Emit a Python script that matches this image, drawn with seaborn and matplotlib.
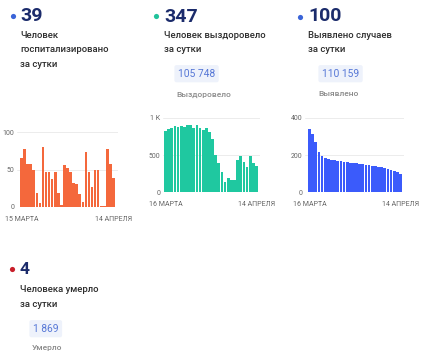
import matplotlib
matplotlib.use("Agg")
import matplotlib.pyplot as plt
import seaborn as sns
import numpy as np

# ---------------- data ----------------
hosp_values = [65, 78, 58, 58, 49, 18, 5, 80, 46, 46, 37, 47, 18, 2, 56, 52,
               46, 32, 31, 17, 6, 74, 47, 26, 50, 50, 1, 1, 78, 57, 39]
recov_values = [826, 844, 857, 884, 870, 893, 870, 902, 897, 866, 906, 857,
                839, 866, 808, 714, 500, 397, 272, 143, 196, 165, 165, 433,
                487, 411, 344, 487, 388, 347]
cases_values = [337, 312, 268, 218, 195, 182, 177, 175, 173, 170, 166, 164,
                161, 159, 157, 155, 152, 150, 148, 145, 143, 141, 137, 134,
                129, 123, 118, 112, 107, 100]

hosp_xlabels = ["15 МАРТА", "14 АПРЕЛЯ"]
recov_xlabels = ["16 МАРТА", "14 АПРЕЛЯ"]
cases_xlabels = ["16 МАРТА", "14 АПРЕЛЯ"]

hosp_yticks = [0, 50, 100]
hosp_yticklabels = ["0", "50", "100"]
recov_yticks = [0, 500, 1000]
recov_yticklabels = ["0", "500", "1 K"]
cases_yticks = [0, 200, 400]
cases_yticklabels = ["0", "200", "400"]

big_numbers = ["39", "347", "100", "4"]
captions = [["Человек", "госпитализировано", "за сутки"],
            ["Человек выздоровело", "за сутки"],
            ["Выявлено случаев", "за сутки"],
            ["Человека умерло", "за сутки"]]
totals = [None, "105 748", "110 159", "1 869"]
total_labels = [None, "Выздоровело", "Выявлено", "Умерло"]

# ---------------- style ----------------
sns.set_theme(style="white")
plt.rcParams["font.family"] = ["Roboto", "DejaVu Sans"]

W, H = 430, 353
fig = plt.figure(figsize=(W / 100, H / 100), dpi=100)
fig.patch.set_facecolor("white")

NAVY = "#1b2b6b"
TEXT = "#2e2e2e"
GRAY = "#8a8a8a"
TICK = "#666666"
BOXBG = "#eef2fb"
BOXTXT = "#5677d6"

ORANGE = "#f4683c"
GREEN = "#1fc8a0"
BLUE = "#3b5bfb"
DOTS = ["#3a64d8", "#21c29b", "#3a64d8", "#c81e2a"]

# overlay axes in pixel coordinates for the text blocks
ov = fig.add_axes([0, 0, 1, 1], zorder=0)
ov.set_xlim(0, W)
ov.set_ylim(H, 0)
ov.axis("off")


def header(i, dot_xy, num_x, num_base, cap_x, cap_base, box=None, lab=None,
           numsize=14):
    ov.scatter([dot_xy[0]], [dot_xy[1]], s=14, color=DOTS[i], linewidths=0)
    ov.text(num_x, num_base, big_numbers[i], fontsize=numsize, fontweight="bold",
            color=NAVY, va="baseline", ha="left")
    for k, line in enumerate(captions[i]):
        ov.text(cap_x, cap_base + k * 14.7, line, fontsize=6.8,
                fontweight="medium", color=TEXT, va="baseline", ha="left")
    if box is not None:
        ov.text(box[0], box[1], totals[i], fontsize=7.4, color=BOXTXT,
                va="baseline", ha="left",
                bbox=dict(boxstyle="round,pad=0.35,rounding_size=0.2",
                          fc=BOXBG, ec="none"))
    if lab is not None:
        ov.text(lab[0], lab[1], total_labels[i], fontsize=6.0,
                fontweight="medium", color=GRAY, va="baseline", ha="left")


header(0, (13, 15.7), 20, 20.8, 20, 37.5)
header(1, (155.5, 15.7), 164, 21.5, 164, 37.5, box=(178, 76.7), lab=(176, 96.5))
header(2, (300, 16.7), 308, 21.2, 308, 37.5, box=(322, 76.7), lab=(318, 96.5))
header(3, (12, 269), 20, 274.5, 20, 292.3, box=(33, 331.7), lab=(32, 350),
       numsize=12.5)


def add_axes_px(left, right, top, bottom):
    return fig.add_axes([left / W, 1 - bottom / H, (right - left) / W,
                         (bottom - top) / H], zorder=1)


def chart(values, color, L, R, gl, gr, y0px, ytop_px, ytop_val,
          yticks, yticklabels, xlabels):
    n = len(values)
    slot = (R - L) / n
    ax = add_axes_px(gl, gr, ytop_px, y0px)
    ax.patch.set_alpha(0)
    sns.barplot(x=np.arange(n), y=values, color=color, saturation=1,
                width=0.86, linewidth=0, edgecolor=color, ax=ax, zorder=2)
    ax.set_xlim(-0.5 - (L - gl) / slot, n - 0.5 + (gr - R) / slot)
    ax.set_ylim(0, ytop_val)
    ax.set_yticks(yticks)
    ax.set_yticklabels(yticklabels)
    ax.set_xticks([0, n - 1])
    ax.set_xticklabels(xlabels)
    ax.set_xlabel("")
    ax.set_ylabel("")
    for s in ax.spines.values():
        s.set_visible(False)
    ax.grid(axis="y", color="#e9e9e9", linewidth=0.6, zorder=0)
    ax.set_axisbelow(True)
    ax.tick_params(axis="y", length=0, pad=2.0, labelsize=5, labelcolor=TICK)
    ax.tick_params(axis="x", length=0, pad=6.5, labelsize=5, labelcolor=TICK)
    return ax


chart(hosp_values, ORANGE, 20, 115, 17, 118, 206.7, 132.3, 100,
      hosp_yticks, hosp_yticklabels, hosp_xlabels)
chart(recov_values, GREEN, 164, 258, 163, 260, 192.3, 117.7, 1000,
      recov_yticks, recov_yticklabels, recov_xlabels)
chart(cases_values, BLUE, 308, 402, 305, 404, 192.3, 117.7, 400,
      cases_yticks, cases_yticklabels, cases_xlabels)

fig.savefig("out.png", dpi=100, facecolor="white")
